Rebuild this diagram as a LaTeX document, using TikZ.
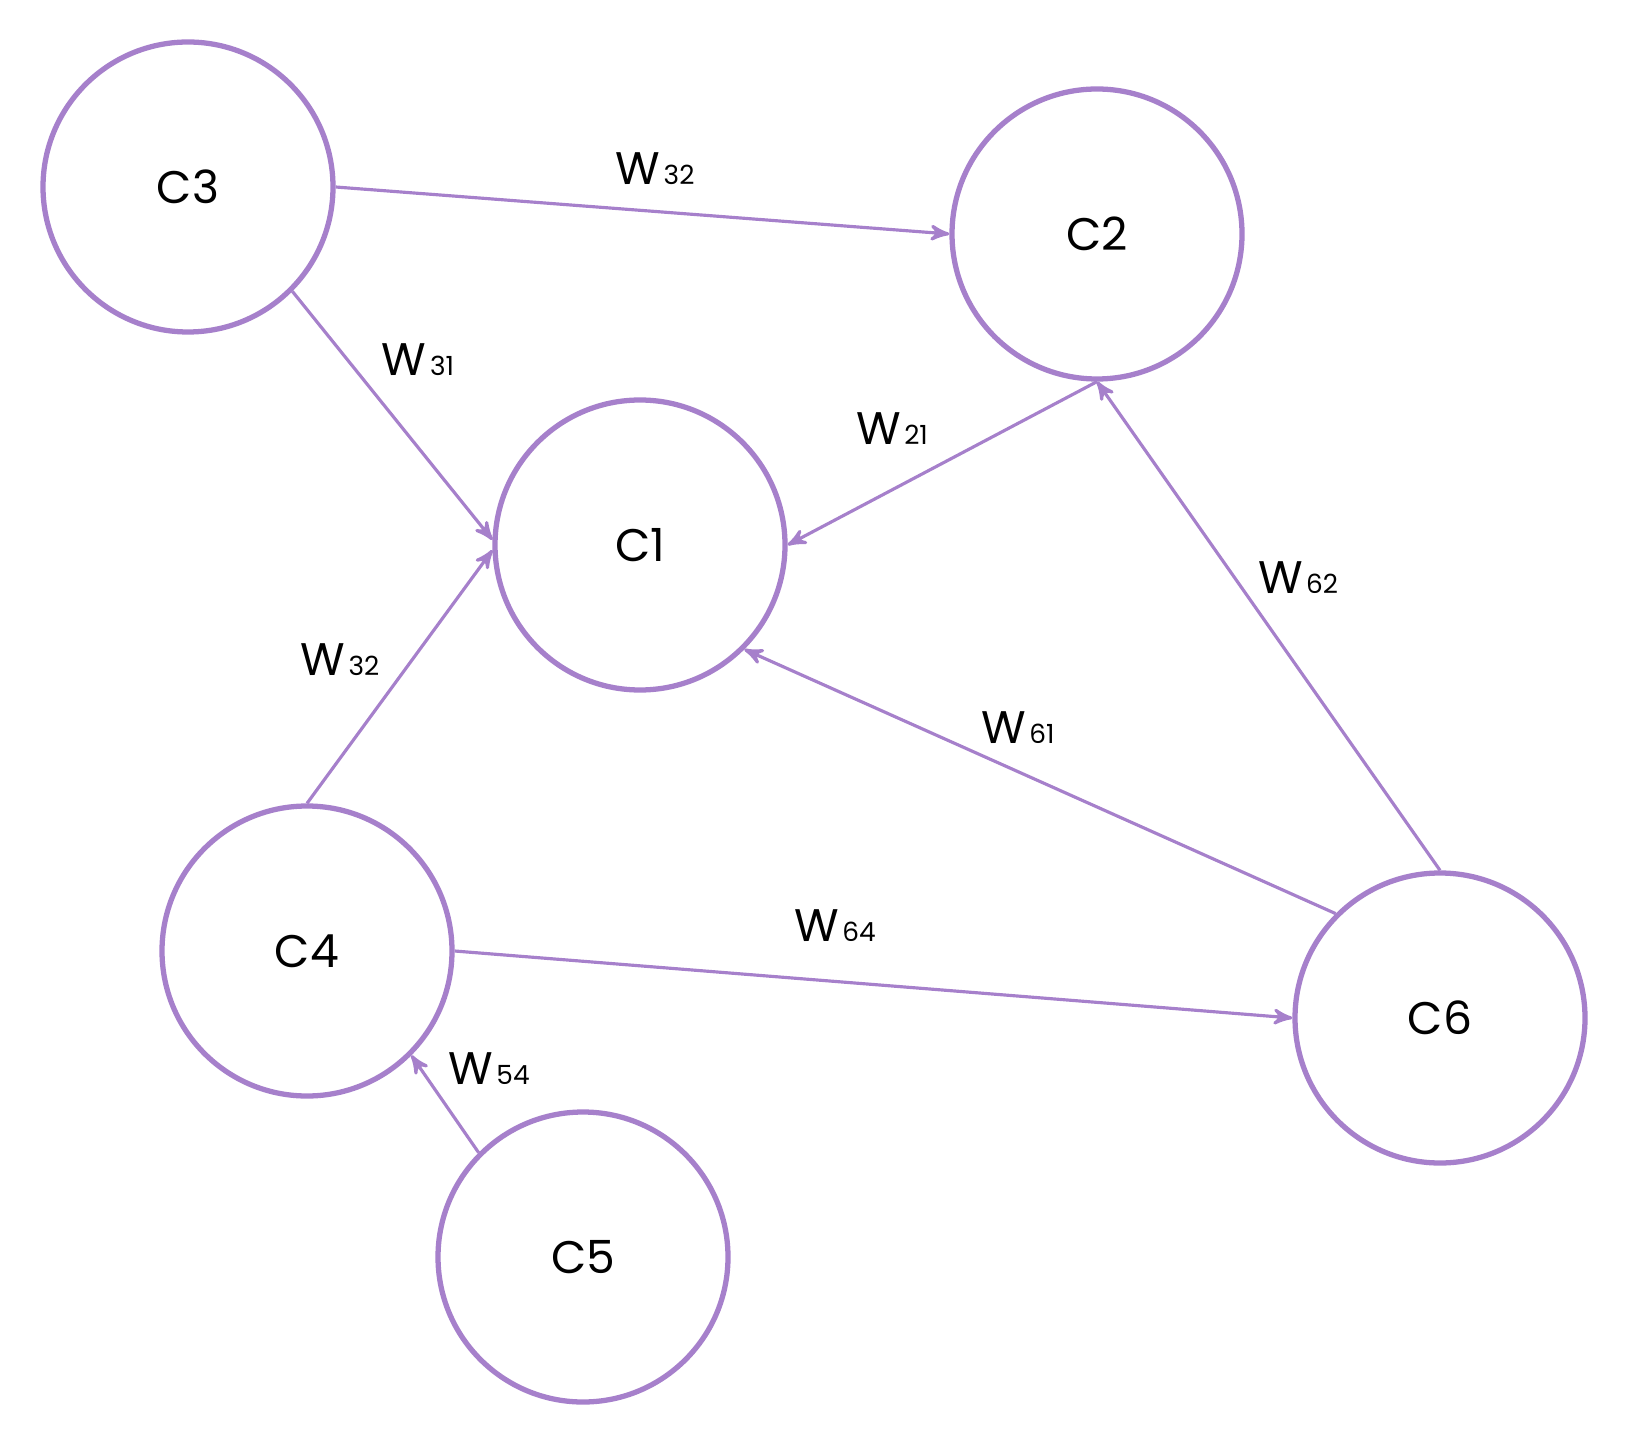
\documentclass[tikz,border=0pt]{standalone}
\usepackage{fontspec}
\setmainfont{Poppins}
\usetikzlibrary{arrows}
\definecolor{lilac}{RGB}{166,128,203}
\tikzset{>=stealth'}
\tikzset{cnode/.style={draw=lilac, line width=1.5pt, circle, minimum size=2.9cm, inner sep=0pt, fill=white, font=\fontsize{13}{15}\selectfont}}
\tikzset{wlab/.style={inner sep=1pt, font=\fontsize{13}{15}\selectfont}}
\tikzset{edge/.style={->, draw=lilac, line width=0.9pt}}
\newcommand{\wsub}[1]{W\kern1pt{\fontsize{7.5}{8}\selectfont #1}}

\begin{document}
\begin{tikzpicture}
\useasboundingbox (0,0) rectangle (16.26,14.34);

\node (C3) [cnode] at (1.88,12.47) {C3};
\node (C2) [cnode] at (10.97,12.00) {C2};
\node (C1) [cnode] at (6.40,8.89) {C1};
\node (C4) [cnode] at (3.07,4.83) {C4};
\node (C5) [cnode] at (5.83,1.77) {C5};
\node (C6) [cnode] at (14.40,4.16) {C6};

\draw[edge] (C3.east) -- (C2.west);
\draw[edge] (C3.south east) -- (C1.178);
\draw[edge] (C4.north) -- (C1.182);
\draw[edge] (C2.south) -- (C1.east);
\draw[edge] (C6.north) -- (C2.south);
\draw[edge] (C6.north west) -- (C1.south east);
\draw[edge] (C4.east) -- (C6.west);
\draw[edge] (C5.north west) -- (C4.south east);

\node (w32a) [wlab] at (6.55,12.65) {\wsub{32}};
\node (w31) [wlab] at (4.18,10.74) {\wsub{31}};
\node (w21) [wlab] at (8.92,10.05) {\wsub{21}};
\node (w32b) [wlab] at (3.40,7.74) {\wsub{32}};
\node (w61) [wlab] at (10.18,7.06) {\wsub{61}};
\node (w62) [wlab] at (12.98,8.56) {\wsub{62}};
\node (w64) [wlab] at (8.35,5.08) {\wsub{64}};
\node (w54) [wlab] at (4.89,3.65) {\wsub{54}};
\end{tikzpicture}
\end{document}
